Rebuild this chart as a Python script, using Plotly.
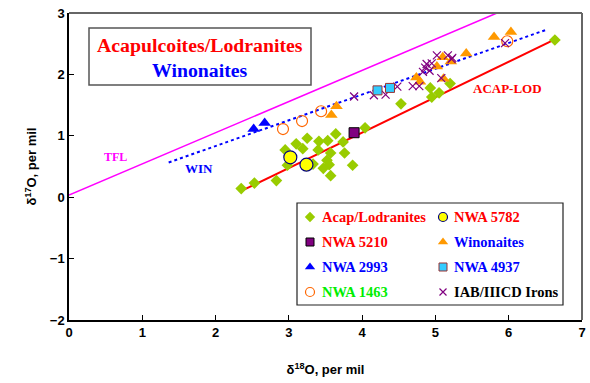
import plotly.graph_objects as go

# ---------------- data ----------------
acap_x = [2.35, 2.53, 2.83, 2.95, 3.10, 3.25, 3.19, 2.98, 3.41, 3.53, 3.64, 3.40, 3.57, 3.74,
          3.76, 3.52, 3.55, 3.47, 3.33, 3.57, 3.87, 4.04, 4.53, 4.93, 5.05, 4.95, 5.20, 6.63]
acap_y = [0.14, 0.23, 0.27, 0.77, 0.87, 0.96, 0.79, 0.52, 0.91, 0.92, 1.03, 0.77, 0.72, 0.90,
          0.72, 0.60, 0.53, 0.47, 0.54, 0.35, 0.52, 1.13, 1.52, 1.78, 1.70, 1.63, 1.85, 2.56]

n5782_x = [3.02, 3.24]
n5782_y = [0.65, 0.53]

n5210_x = [3.89]
n5210_y = [1.05]

win_x = [3.58, 3.65, 4.74, 4.79, 5.02, 5.10, 5.21, 5.11, 5.42, 5.80, 6.03]
win_y = [1.34, 1.48, 1.95, 1.88, 2.13, 2.28, 2.21, 1.93, 2.34, 2.61, 2.69]

n2993_x = [2.52, 2.67]
n2993_y = [1.11, 1.21]

n4937_x = [4.21, 4.38]
n4937_y = [1.74, 1.78]

n1463_x = [2.92, 3.18, 3.44, 5.98]
n1463_y = [1.11, 1.24, 1.40, 2.54]

iab_x = [3.89, 4.16, 4.32, 4.48, 4.69, 4.78, 4.83, 4.86, 4.88, 4.92, 4.95, 5.02, 5.17, 5.22, 5.23, 5.08, 5.95]
iab_y = [1.64, 1.66, 1.67, 1.80, 1.81, 1.81, 2.04, 2.11, 2.17, 2.06, 2.18, 2.31, 2.31, 2.25, 2.27, 1.94, 2.51]

tfl_x = [0.0, 5.84]
tfl_y = [0.035, 3.0]
winline_x = [1.36, 6.52]
winline_y = [0.565, 2.73]
acapline_x = [2.33, 6.63]
acapline_y = [0.09, 2.57]

x_ticks = [0, 1, 2, 3, 4, 5, 6, 7]
y_ticks = [-2, -1, 0, 1, 2, 3]

series_names = ["Acap/Lodranites", "NWA 5782", "NWA 5210", "Winonaites",
                "NWA 2993", "NWA 4937", "NWA 1463", "IAB/IIICD Irons"]

SERIF = "Liberation Serif, Times New Roman, serif"
SANS = "Liberation Sans, Arial, sans-serif"

# plot area in px: left 69, right 582, top 13, bottom 320
W, H = 590, 383
L, R, T, B = 69, 8, 13, 63

def px(xp):
    return (xp - L) / (W - L - R)

def py(yp):
    return (H - B - yp) / (H - B - T)

fig = go.Figure()

# reference lines
fig.add_trace(go.Scatter(x=tfl_x, y=tfl_y, mode="lines", line=dict(color="#FF00FF", width=1.5),
                         showlegend=False, hoverinfo="skip"))
fig.add_trace(go.Scatter(x=winline_x, y=winline_y, mode="lines", line=dict(color="#0000FF", width=2, dash="dot"),
                         showlegend=False, hoverinfo="skip"))
fig.add_trace(go.Scatter(x=acapline_x, y=acapline_y, mode="lines", line=dict(color="#FF0000", width=2),
                         showlegend=False, hoverinfo="skip"))

# styles: name -> (x, y, marker, legend-marker size, text colour, legend col, legend row)
styles = {
    "Acap/Lodranites": (acap_x, acap_y, dict(symbol="diamond", size=9, color="#99CC00"), 8, "#FF0000", 0, 0),
    "NWA 5782": (n5782_x, n5782_y, dict(symbol="circle", size=13, color="#FFFF00", line=dict(color="#000080", width=1.2)), 9, "#FF0000", 1, 0),
    "NWA 5210": (n5210_x, n5210_y, dict(symbol="square", size=10, color="#800080", line=dict(color="#000000", width=1)), 8, "#FF0000", 0, 1),
    "Winonaites": (win_x, win_y, dict(symbol="triangle-up", size=11, color="#FF9900"), 9, "#0000FF", 1, 1),
    "NWA 2993": (n2993_x, n2993_y, dict(symbol="triangle-up", size=11, color="#0000FF"), 9, "#0000FF", 0, 2),
    "NWA 4937": (n4937_x, n4937_y, dict(symbol="square", size=9, color="#33CCFF", line=dict(color="#993333", width=1)), 8, "#0000FF", 1, 2),
    "NWA 1463": (n1463_x, n1463_y, dict(symbol="circle-open", size=11, color="#FF6600", line=dict(width=1.2)), 9, "#00EE00", 0, 3),
    "IAB/IIICD Irons": (iab_x, iab_y, dict(symbol="x-thin-open", size=8, color="#800080", line=dict(color="#800080", width=1.2)), 7, "#000000", 1, 3),
}

draw_order = ["Acap/Lodranites", "NWA 5782", "NWA 5210", "NWA 1463", "NWA 2993",
              "Winonaites", "IAB/IIICD Irons", "NWA 4937"]
for name in draw_order:
    xs, ys, mk, _, _, _, _ = styles[name]
    fig.add_trace(go.Scatter(x=xs, y=ys, mode="markers", marker=mk, name=name, showlegend=False))

# ---- legend (drawn in paper units on an overlay axis pair) ----
col_marker_px = [310, 443]
col_text_px = [320, 452]
row_px = [217, 242, 267, 292]
for name in series_names:
    _, _, mk, lsize, tc, col, row = styles[name]
    lm = dict(mk)
    lm["size"] = lsize
    fig.add_trace(go.Scatter(x=[px(col_marker_px[col])], y=[py(row_px[row])], xaxis="x2", yaxis="y2",
                             mode="markers", marker=lm, showlegend=False, hoverinfo="skip"))
    fig.add_annotation(xref="paper", yref="paper", x=px(col_text_px[col]), y=py(row_px[row]),
                       xanchor="left", yanchor="middle", text=f"<b>{name}</b>", showarrow=False,
                       font=dict(family=SERIF, size=14.5, color=tc))

fig.update_layout(
    width=W, height=H,
    margin=dict(l=L, r=R, t=T, b=B),
    paper_bgcolor="white", plot_bgcolor="white",
    showlegend=False,
    xaxis=dict(range=[0, 7], tickvals=x_ticks, ticks="inside", ticklen=5, tickcolor="black",
               showline=True, linecolor="black", linewidth=1.5, showgrid=False, zeroline=False,
               automargin=False,
               tickfont=dict(family=SANS, size=13, color="black", weight="bold"),
               title=dict(text="δ<sup>18</sup>O, per mil", standoff=26,
                          font=dict(family=SANS, size=13, color="black", weight="bold"))),
    yaxis=dict(range=[-2, 3], tickvals=y_ticks, ticks="inside", ticklen=5, tickcolor="black",
               showline=True, linecolor="black", linewidth=1.5, showgrid=False, zeroline=False,
               automargin=False,
               tickfont=dict(family=SANS, size=13, color="black", weight="bold"),
               title=dict(text="δ<sup>17</sup>O, per mil", standoff=10,
                          font=dict(family=SANS, size=13, color="black", weight="bold"))),
    xaxis2=dict(range=[0, 1], overlaying="x", visible=False, showgrid=False, zeroline=False),
    yaxis2=dict(range=[0, 1], overlaying="y", anchor="x2", visible=False, showgrid=False, zeroline=False),
)

# top/right frame in grey
fig.add_shape(type="line", xref="paper", yref="paper", x0=0, x1=1, y0=1, y1=1,
              line=dict(color="#666666", width=2))
fig.add_shape(type="line", xref="paper", yref="paper", x0=1, x1=1, y0=0, y1=1,
              line=dict(color="#666666", width=2))

# title box
fig.add_shape(type="rect", xref="paper", yref="paper", x0=px(89), x1=px(311), y0=py(85), y1=py(28),
              line=dict(color="#555555", width=1.5), fillcolor="rgba(0,0,0,0)")
fig.add_annotation(xref="paper", yref="paper", x=px(200), y=py(45), xanchor="center", yanchor="middle",
                   text="<b>Acapulcoites/Lodranites</b>",
                   showarrow=False, font=dict(family=SERIF, size=19.8, color="#FF0000"))
fig.add_annotation(xref="paper", yref="paper", x=px(200), y=py(70), xanchor="center", yanchor="middle",
                   text="<b>Winonaites</b>",
                   showarrow=False, font=dict(family=SERIF, size=19.8, color="#0000FF"))

# legend box
fig.add_shape(type="rect", xref="paper", yref="paper", x0=px(297), x1=px(563), y0=py(305), y1=py(203),
              line=dict(color="#222222", width=1.2), fillcolor="rgba(0,0,0,0)")

# line labels
fig.add_annotation(x=0.63, y=0.65, text="<b>TFL</b>", showarrow=False,
                   font=dict(family=SERIF, size=12, color="#FF00FF"))
fig.add_annotation(x=1.77, y=0.46, text="<b>WIN</b>", showarrow=False,
                   font=dict(family=SERIF, size=13, color="#0000FF"))
fig.add_annotation(x=5.98, y=1.77, text="<b>ACAP-LOD</b>", showarrow=False,
                   font=dict(family=SERIF, size=13, color="#FF0000"))

fig.write_html("out.html",
               config={"displayModeBar": False},
               post_script="document.body.style.margin='0';document.body.style.overflow='hidden';")
